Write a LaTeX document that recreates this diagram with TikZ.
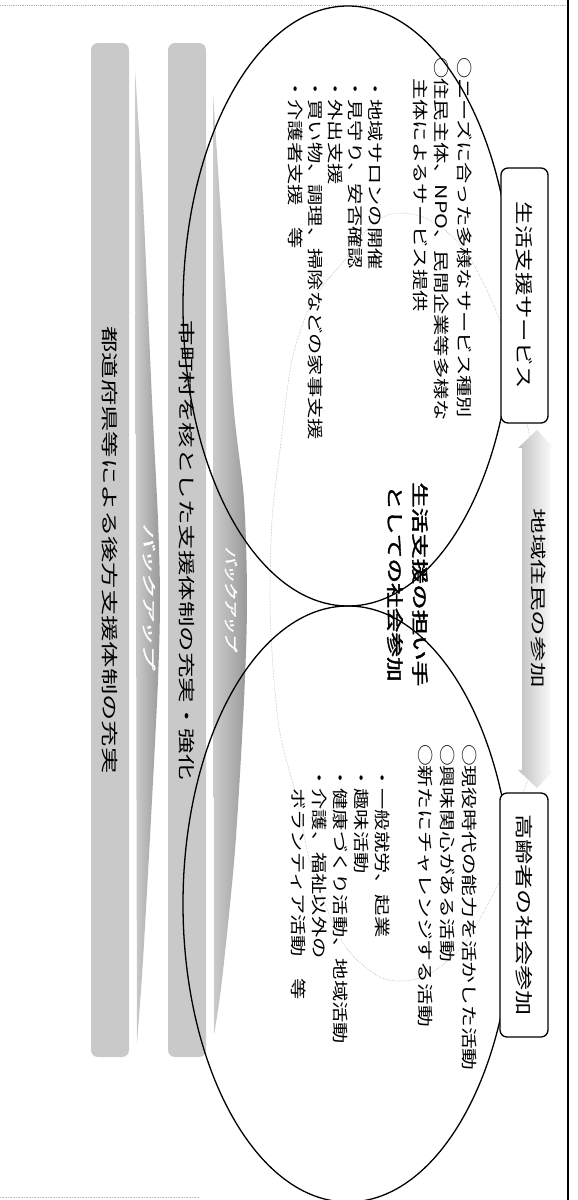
\documentclass[tikz,border=0pt]{standalone}
\usepackage{fontspec}
\usepackage{graphicx}
\newfontfamily\jp{Noto Sans CJK JP}[AutoFakeBold=2]
\newfontfamily\jpsl{Noto Sans CJK JP}[FakeSlant=0.25,AutoFakeBold=2]
\begin{document}
\begin{tikzpicture}[x=1pt,y=-1pt,
  jt/.style={rotate=-90, inner sep=0pt, anchor=base west, font=\jp\fontsize{16}{20}\selectfont},
  jtb/.style={rotate=-90, inner sep=0pt, anchor=base west, font=\jp\fontsize{17}{20}\selectfont\bfseries},
  bandbox/.style={rotate=-90, fill=gray!42, rounded corners=7pt, inner sep=0pt, font=\jp\fontsize{17}{20}\selectfont},
  wedgefill/.style={left color=gray!40, right color=gray!80},
  wtext/.style={rotate=-90, inner sep=0pt, text=white, font=\jpsl\fontsize{14}{16}\selectfont\bfseries},
  ell/.style={line width=1.3pt},
  loopline/.style={gray!70, line width=0.5pt, densely dotted},
  titlebox/.style={rotate=-90, draw, line width=1.3pt, fill=white, rounded corners=7pt, inner sep=0pt, font=\jp\fontsize{18}{20}\selectfont},
  arrowfill/.style={left color=gray!50, right color=white},
  arrtext/.style={rotate=-90, inner sep=0pt, font=\jp\fontsize{16}{20}\selectfont}
]
\useasboundingbox (0,0) rectangle (578,1200);
\fill[white] (0,0) rectangle (578,1200);

% frame
\draw[gray!60, densely dotted, line width=0.8pt] (0,5) -- (568,5);
\draw[line width=1.2pt] (568,0) -- (568,1200);
\draw[gray!50, densely dotted, line width=0.6pt] (0,1197) -- (200,1197);

% bands
\node[bandbox, minimum width=1014pt, minimum height=38pt] (band1) at (110,550) {\scalebox{1.55}[1]{都道府県等による後方支援体制の充実}};
\node[bandbox, minimum width=1014pt, minimum height=38pt] (band2) at (187,550) {\scalebox{1.5}[1]{市町村を核とした支援体制の充実・強化}};

% backup wedges
\path[wedgefill] plot[smooth] coordinates {(135,70) (143,200) (152,400) (158,520) (160,600) (158,680) (152,800) (143,960) (137,1043)} -- cycle;
\path[wedgefill] plot[smooth] coordinates {(213,93) (220,200) (233,400) (244,500) (247,600) (244,700) (235,850) (222,980) (214,1035)} -- cycle;
\node[wtext] (bk1) at (149,595) {\scalebox{1.7}[1]{バックアップ}};
\node[wtext] (bk2) at (231,598) {\scalebox{1.22}[1]{バックアップ}};

% faint loop
\draw[loopline] plot[smooth] coordinates {(530,440) (527,423) (515,370) (497,313) (470,258) (447,232) (423,217) (400,213) (383,217) (367,230) (347,257) (313,300) (292,360) (280,450) (272,520) (270,600) (273,667) (280,733) (297,800) (312,868) (343,943) (380,977) (413,980) (440,967) (467,940) (500,880) (515,830) (523,793) (533,770)};
\draw[loopline] (530,440) -- (545,440);
\draw[loopline] (533,770) -- (545,770);

% ellipses
\draw[ell] (348,306) ellipse [x radius=165, y radius=300];
\draw[ell] (348,904) ellipse [x radius=165, y radius=298];

% double arrow
\path[arrowfill] (537,430) -- (554,448) -- (550,448) -- (550,770) -- (554,770) -- (537,788) -- (518,770) -- (522,770) -- (522,448) -- (518,448) -- cycle;
\node[arrtext] (arrtxt) at (539,598) {\scalebox{1.6}[1]{地域住民の参加}};

% upper texts
\node[jt] (u1) at (458,57) {\scalebox{1.33}[1]{○ニーズに合った多様なサービス種別}};
\node[jt] (u2) at (435,57) {\scalebox{1.33}[1]{○住民主体、NPO、民間企業等多様な}};
\node[jt] (u3) at (414,78) {\scalebox{1.33}[1]{主体によるサービス提供}};
\node[jt] (u4) at (369,78) {\scalebox{1.33}[1]{・地域サロンの開催}};
\node[jt] (u5) at (349,78) {\scalebox{1.33}[1]{・見守り、安否確認}};
\node[jt] (u6) at (329,78) {\scalebox{1.33}[1]{・外出支援}};
\node[jt] (u7) at (309,78) {\scalebox{1.33}[1]{・買い物、調理、掃除などの家事支援}};
\node[jt] (u8) at (289,78) {\scalebox{1.33}[1]{・介護者支援　等}};

% middle text
\node[jtb] (m1) at (413.5,482) {\scalebox{1.5}[1]{生活支援の担い手}};
\node[jtb] (m2) at (388.5,485) {\scalebox{1.45}[1]{としての社会参加}};

% lower texts
\node[jt] (l1) at (463,744) {\scalebox{1.36}[1]{○現役時代の能力を活かした活動}};
\node[jt] (l2) at (441,744) {\scalebox{1.36}[1]{○興味関心がある活動}};
\node[jt] (l3) at (419,744) {\scalebox{1.36}[1]{○新たにチャレンジする活動}};
\node[jt] (l4) at (376,767) {\scalebox{1.33}[1]{・一般就労、起業}};
\node[jt] (l5) at (355,767) {\scalebox{1.33}[1]{・趣味活動}};
\node[jt] (l6) at (334,767) {\scalebox{1.33}[1]{・健康づくり活動、地域活動}};
\node[jt] (l7) at (313,767) {\scalebox{1.33}[1]{・介護、福祉以外の}};
\node[jt] (l8) at (292,788) {\scalebox{1.33}[1]{ボランティア活動　等}};

% title boxes
\node[titlebox, minimum width=255pt, minimum height=47pt] (t1) at (524.5,295.5) {\scalebox{1.3}[1]{生活支援サービス}};
\node[titlebox, minimum width=244pt, minimum height=48pt] (t2) at (524,915) {\scalebox{1.4}[1]{高齢者の社会参加}};
\end{tikzpicture}
\end{document}
